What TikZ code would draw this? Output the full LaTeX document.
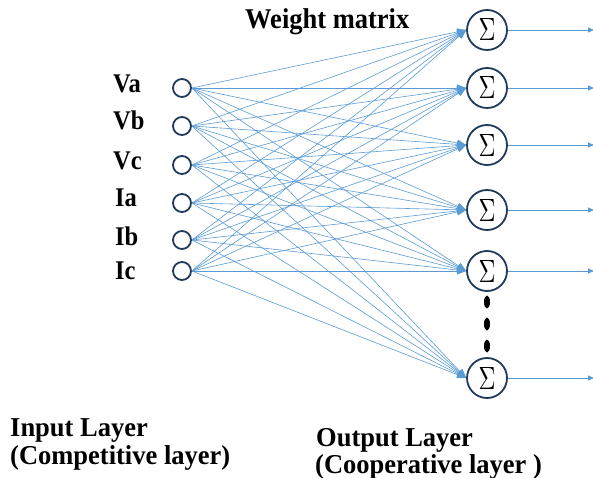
\documentclass[tikz,border=0pt]{standalone}
\usepackage{fontspec}
\setmainfont{Liberation Serif}
\usetikzlibrary{arrows.meta,shapes.geometric}
\definecolor{edgeblue}{HTML}{5B9BD5}
\definecolor{ringnavy}{HTML}{1F3A5A}
\newcommand{\tallbig}[1]{\scalebox{1}[1.03]{\fontsize{26.5}{30}\selectfont\bfseries #1}}
\newcommand{\tallsmall}[1]{\scalebox{1}[1.1]{\fontsize{24.5}{28}\selectfont\bfseries #1}}
\begin{document}
\begin{tikzpicture}[x=1pt,y=-1pt,
  inneuron/.style={circle,draw=ringnavy,line width=1.8pt,minimum size=18pt,inner sep=0pt},
  outneuron/.style={circle,draw=ringnavy,line width=1.8pt,minimum size=40pt,inner sep=0pt},
  lbl/.style={anchor=base west,inner sep=0pt},
  wedge/.style={draw=edgeblue,line width=0.6pt,-{Triangle[length=9pt,width=7pt]}},
  oedge/.style={draw=edgeblue,line width=0.8pt,-{Triangle[length=6pt,width=5pt]}},
  vdot/.style={ellipse,fill=black,minimum width=6pt,minimum height=13pt,inner sep=0pt}]
\useasboundingbox (0,0) rectangle (593,478);
% input neurons
\node[inneuron] (i1) at (182,88) {};
\node[inneuron] (i2) at (182,126) {};
\node[inneuron] (i3) at (182,165) {};
\node[inneuron] (i4) at (182,203) {};
\node[inneuron] (i5) at (182,240) {};
\node[inneuron] (i6) at (182,271) {};
% labels
\node[lbl] (la) at (113,93) {\tallsmall{Va}};
\node[lbl] (lb) at (113,130) {\tallsmall{Vb}};
\node[lbl] (lc) at (113,170) {\tallsmall{Vc}};
\node[lbl] (ld) at (115,206) {\tallsmall{Ia}};
\node[lbl] (le) at (115,245) {\tallsmall{Ib}};
\node[lbl] (lf) at (115,279) {\tallsmall{Ic}};
% output neurons
\foreach \n/\y in {1/30,2/88,3/145,4/210,5/271,6/378}{
  \node[outneuron] (o\n) at (487,\y) {\resizebox{17pt}{22pt}{$\Sigma$}};
  \coordinate (e\n) at (594,\y);
}
% dots
\node[vdot] (d1) at (487,302) {};
\node[vdot] (d2) at (487,324) {};
\node[vdot] (d3) at (487,346) {};
% weights
\foreach \i in {1,...,6}{
  \foreach \o in {1,...,6}{
    \draw[wedge] (i\i.east) -- (o\o.west);
  }
}
\foreach \o in {1,...,6}{
  \draw[oedge] (o\o.east) -- (e\o);
}
% titles
\node[lbl] (wm) at (245,29) {\scalebox{1}[1.08]{\fontsize{26.5}{30}\selectfont\bfseries Weight matrix}};
\node[lbl] (il1) at (10,436) {\tallbig{Input Layer}};
\node[lbl] (il2) at (10,464) {\tallbig{(Competitive layer)}};
\node[lbl] (ol1) at (316,446) {\tallbig{Output Layer}};
\node[lbl] (ol2) at (315,473) {\tallbig{(Cooperative layer )}};
\end{tikzpicture}
\end{document}
